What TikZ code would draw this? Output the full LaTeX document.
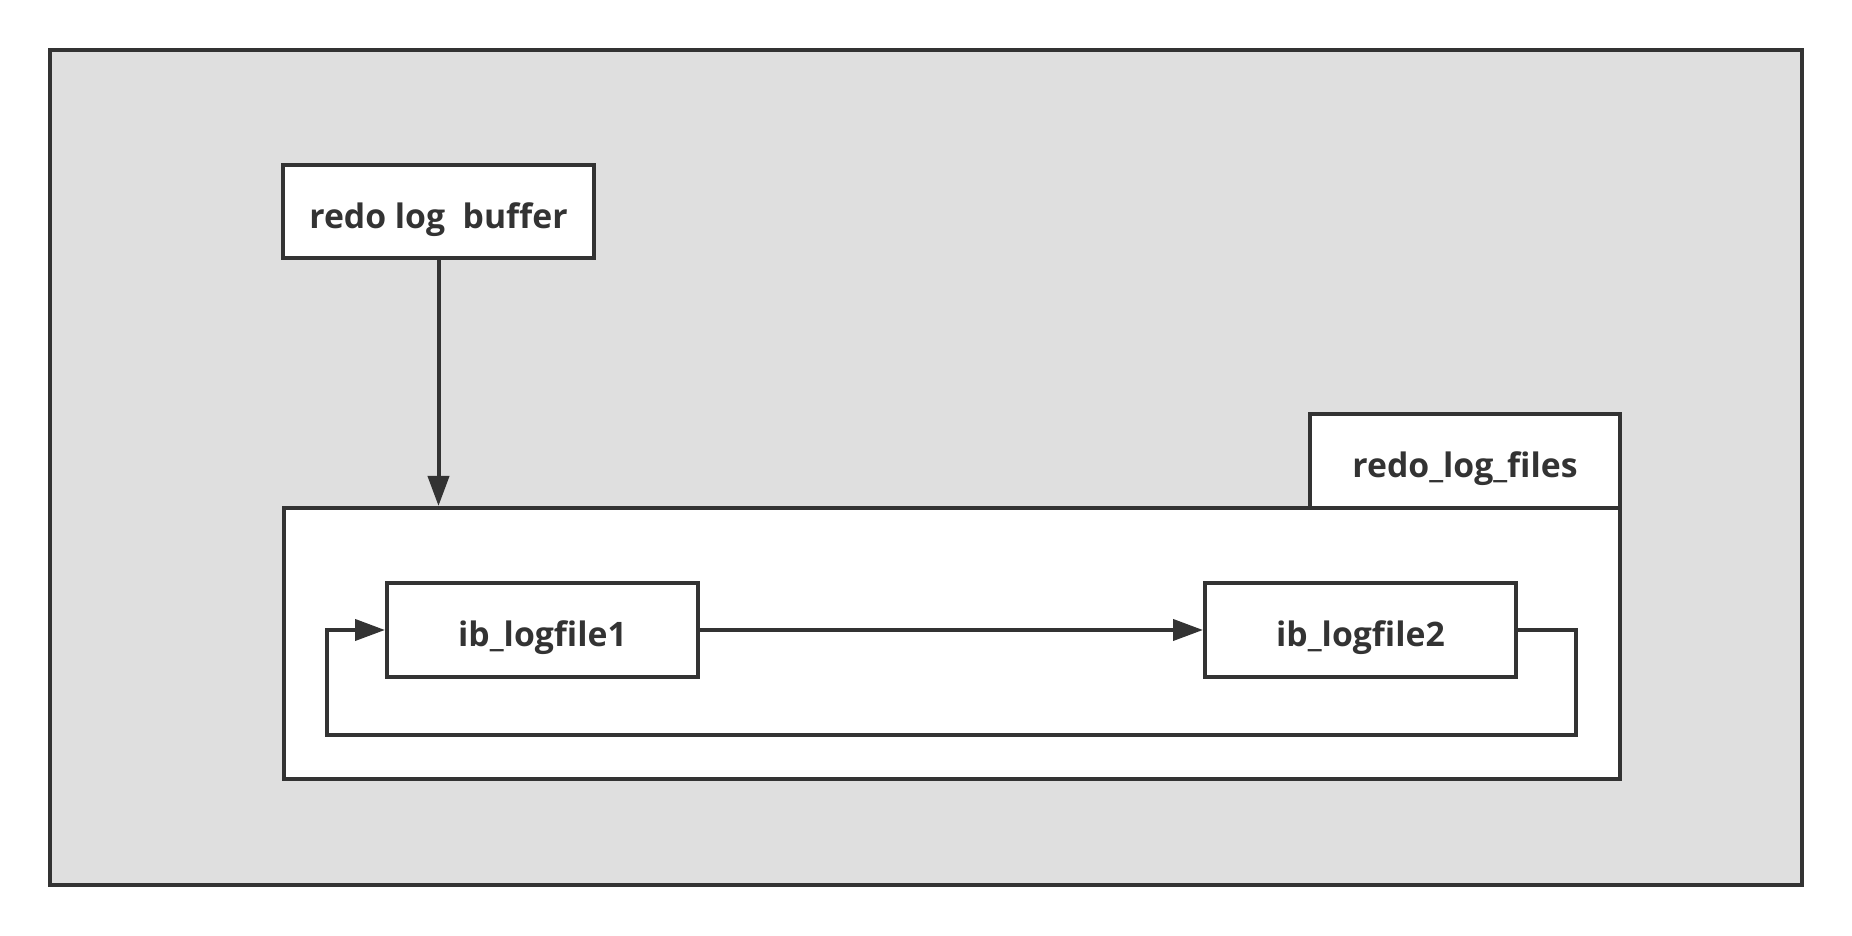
\documentclass[tikz,border=0pt]{standalone}
\usepackage{fontspec}
\setmainfont{Open Sans}
\usetikzlibrary{arrows.meta,positioning}
\definecolor{tinta}{HTML}{333333}
\definecolor{fondo}{HTML}{DFDFDF}

\begin{document}
\begin{tikzpicture}[>={Triangle[length=0.30cm,width=0.21cm]},line cap=butt,
    caja/.style={draw=tinta,line width=0.04cm,fill=white,minimum width=3.11cm,
                 minimum height=0.93cm,inner sep=0pt,text=tinta,
                 text height=0.34cm,text depth=0cm,
                 font=\fontsize{9.6pt}{11pt}\selectfont\bfseries},
    flujo/.style={draw=tinta,line width=0.04cm,->}]
        \useasboundingbox (0,0) rectangle (18.52,-9.36);
        \draw[tinta,line width=0.04cm,fill=fondo] (0.50,-0.50) rectangle (18.02,-8.85);
        \node[caja] (buffer) at (4.385,-2.12) {redo log\ \ buffer};
        \node[caja,minimum width=3.10cm,minimum height=0.94cm] (tab) at (14.65,-4.61) {redo\_log\_files};
        \node[caja,minimum width=13.365cm,minimum height=2.715cm] (files) at (9.5175,-6.4375) {};
        \node[caja,minimum height=0.94cm] (ib1) at (5.425,-6.30) {ib\_logfile1};
        \node[caja,minimum height=0.94cm] (ib2) at (13.605,-6.30) {ib\_logfile2};
        \coordinate (loopR) at (15.76,-7.35);
        \coordinate (loopL) at (3.27,-7.35);
        \draw[flujo] (buffer.south) -- (buffer.south |- files.north);
        \draw[flujo] (ib1.east) -- (ib2.west);
        \draw[flujo] (ib2.east) -| (loopR) -- (loopL) |- (ib1.west);
      \end{tikzpicture}
\end{document}
